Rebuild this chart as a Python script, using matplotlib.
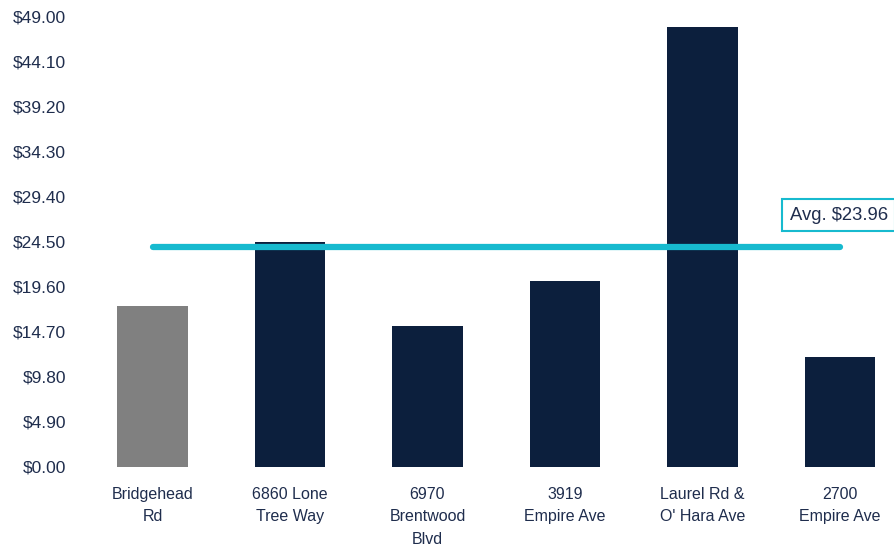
import matplotlib.pyplot as plt
import numpy as np

plt.rcParams['font.family'] = ['Liberation Sans', 'DejaVu Sans']

# Data
locations = ['Bridgehead\nRd', '6860 Lone\nTree Way', '6970\nBrentwood\nBlvd',
             '3919\nEmpire Ave', 'Laurel Rd &\nO\' Hara Ave', '2700\nEmpire Ave']
rents = [17.49, 24.46, 15.31, 20.21, 47.90, 11.94]
subject_idx = 0
yticks = [0, 4.9, 9.8, 14.7, 19.6, 24.5, 29.4, 34.3, 39.2, 44.1, 49.0]

NAVY = '#0C1F3D'
GRAY = '#808080'
CYAN = '#17BACF'
TEXT = '#1F2D4D'

comps = [r for i, r in enumerate(rents) if i != subject_idx]
avg = np.mean(comps)

fig = plt.figure(figsize=(8.94, 5.52), dpi=100)
ax = fig.add_axes([83.75 / 894, (552 - 466.7) / 552, (894 - 83.75) / 894, 450.2 / 552])

x = np.arange(len(locations))
colors = [GRAY if i == subject_idx else NAVY for i in range(len(rents))]
ax.bar(x, rents, width=0.516, color=colors, zorder=2)

# average line across the comps
ax.plot([x[0], x[-1]], [avg, avg], color=CYAN, lw=4.5, solid_capstyle='round', zorder=3)
ax.text(4.635, avg + 3.4, f'Avg. ${avg:.2f}', fontsize=13.3, color=TEXT,
        ha='left', va='center', zorder=4,
        bbox=dict(boxstyle='square,pad=0.4', fc='white', ec=CYAN, lw=1.5))

ax.set_xlim(-0.5, 5 + (894 - 840) / 137.5)
ax.set_ylim(0, 49)
ax.set_yticks(yticks)
ax.set_yticklabels([f'${v:.2f}' for v in yticks], fontsize=12.5, color=TEXT)
ax.set_xticks(x)
ax.set_xticklabels(locations, fontsize=11.5, color=TEXT, linespacing=1.62)
ax.tick_params(length=0, axis='y', pad=12.7)
ax.tick_params(length=0, axis='x', pad=14.5)
for s in ax.spines.values():
    s.set_visible(False)

fig.savefig('out.png', dpi=100)
